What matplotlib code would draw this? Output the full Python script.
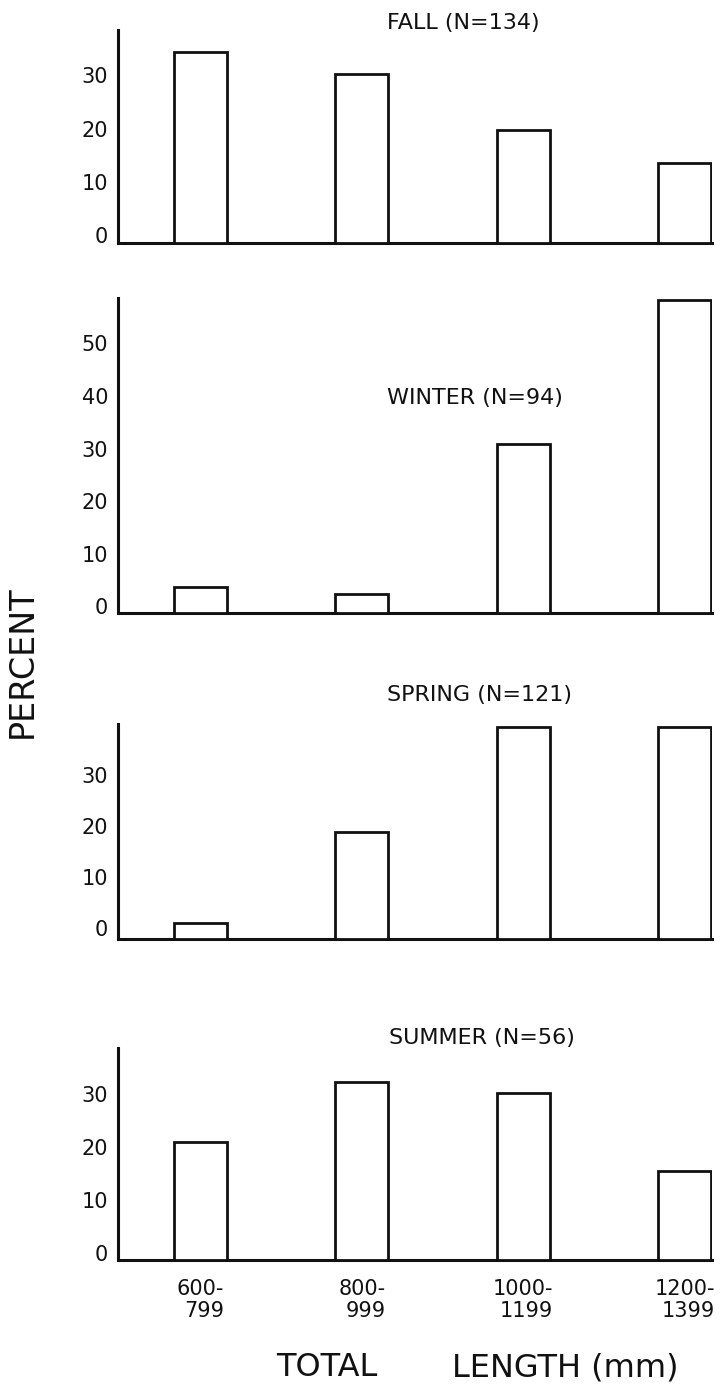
import numpy as np
import matplotlib
matplotlib.use("Agg")
import matplotlib.pyplot as plt

# size classes (total length, mm)
classes = ["600-\n799", "800-\n999", "1000-\n1199", "1200-\n1399"]

# percent of catch in each class, by season
fall = [34.3, 30.3, 19.8, 13.5]
winter = [3.6, 2.4, 30.8, 58.2]
spring = [1.0, 18.8, 39.4, 39.4]
summer = [20.8, 32.2, 30.2, 15.3]

seasons = ["FALL (N=134)", "WINTER (N=94)", "SPRING (N=121)", "SUMMER (N=56)"]
season_vals = [fall, winter, spring, summer]
season_ticks = [[0, 10, 20, 30],
                [0, 10, 20, 30, 40, 50],
                [0, 10, 20, 30],
                [0, 10, 20, 30]]

# layout in pixels of the original page (728 x 1386)
W, H = 728, 1386
ax_left, ax_right = 118, 712
panel_px = [(30, 242.5), (298, 613), (724, 939), (1048, 1260)]   # (top, bottom)
panel_ylim = [(-1.4, 38.5), (-1.25, 58.6), (-2.2, 40.0), (-1.4, 38.6)]
title_px = [(387, 23), (387, 398), (387, 695), (389, 1038)]

fig = plt.figure(figsize=(W / 100, H / 100), dpi=100)
fig.patch.set_facecolor("white")
plt.rcParams['font.family'] = ['DejaVu Sans']

x = np.arange(len(classes))
for i, vals in enumerate(season_vals):
    top, bot = panel_px[i]
    ax = fig.add_axes([ax_left / W, 1 - bot / H, (ax_right - ax_left) / W, (bot - top) / H])
    y0, y1 = panel_ylim[i]
    heights = np.array(vals) - y0
    ax.bar(x, heights, bottom=y0, width=0.33, facecolor="white",
           edgecolor="#111111", linewidth=2.0, zorder=3)
    ax.set_xlim(-0.51, 3.17)
    ax.set_ylim(y0, y1)
    for s in ["top", "right"]:
        ax.spines[s].set_visible(False)
    for s in ["left", "bottom"]:
        ax.spines[s].set_linewidth(2.2)
        ax.spines[s].set_color("#111111")
    ax.set_yticks(season_ticks[i])
    ax.tick_params(axis="y", length=0, pad=7, labelsize=15, labelcolor="#111111")
    if i == len(season_vals) - 1:
        ax.set_xticks(x)
        ax.set_xticklabels(classes, multialignment="right", linespacing=1.1)
        ax.tick_params(axis="x", length=0, pad=14, labelsize=15, labelcolor="#111111")
    else:
        ax.set_xticks([])
    tx, ty = title_px[i]
    fig.text(tx / W, 1 - ty / H, seasons[i], fontsize=16, ha="left",
             va="center", color="#111111")

fig.text(22 / W, 1 - 661.5 / H, "PERCENT", rotation=90, fontsize=24,
         ha="center", va="center", color="#111111")
fig.text(276 / W, 1 - 1368 / H, "TOTAL", fontsize=23, ha="left",
         va="center", color="#111111")
fig.text(452 / W, 1 - 1368 / H, "LENGTH (mm)", fontsize=23, ha="left",
         va="center", color="#111111")

fig.savefig("out.png", dpi=100, facecolor="white")
